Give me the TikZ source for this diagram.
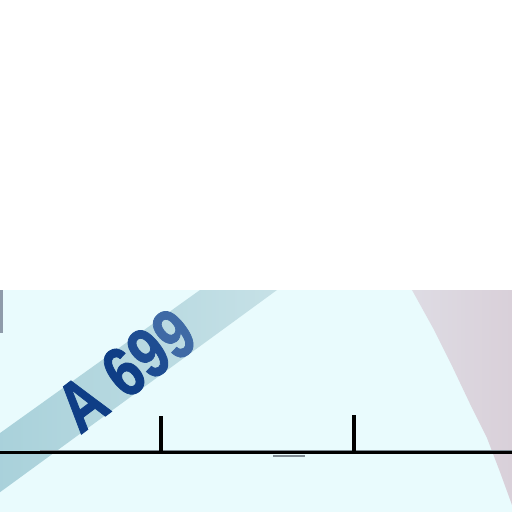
\documentclass[tikz,border=0pt]{standalone}
\usepackage{fontspec}
\setmainfont{Liberation Sans}
\usepackage{graphicx}
\definecolor{bgcyan}{HTML}{E9FBFD}
\definecolor{bandA}{HTML}{A3CED8}
\definecolor{bandB}{HTML}{CAE3E8}
\definecolor{rockA}{HTML}{DEDCE4}
\definecolor{rockB}{HTML}{D9D0D9}
\definecolor{txtA}{HTML}{0F3E86}
\definecolor{txtB}{HTML}{1E4D92}
\definecolor{txtC}{HTML}{3F6AA5}
\definecolor{markgray}{HTML}{8E9BAA}
\definecolor{shadowgray}{HTML}{7E8A92}
\tikzset{
  roadline/.style={line width=3pt, black},
  tickline/.style={line width=3.3pt, black},
  signtext/.style={font=\bfseries\fontsize{71}{71}\selectfont\addfontfeature{FakeBold=1.2}, inner sep=0pt, rotate=37}
}
\begin{document}
\begin{tikzpicture}[x=1pt,y=-1pt]
\useasboundingbox (0,0) rectangle (512,512);
\fill[white] (0,0) rectangle (512,290);
\fill[bgcyan] (0,290) rectangle (512,512);
\begin{scope}
\clip (0,290) rectangle (512,512);
% diagonal band
\shade[left color=bandA, right color=bandB]
  (-60,476) -- (200,290) -- (240,261) -- (317,261) -- (277,290) -- (-60,536) -- cycle;
% right-hand grey-pink area
\shade[left color=rockA, right color=rockB]
  (409,285) -- (412,290) -- (433,328) -- (453,368) -- (472,408) -- (487,438) -- (500,472) -- (512,505) -- (512,285) -- cycle;
\end{scope}
% left edge mark
\fill[markgray] (0,290) rectangle (3,333);
% sign text
\node[signtext] (sign) at (126,370) {\scalebox{0.8}[1]{\color{txtA}A 6\color{txtB}9\color{txtC}9}};
% line with ticks
\coordinate (lineL) at (0,452.5);
\coordinate (lineR) at (512,452.5);
\coordinate (tickAbot) at (161,452.5);
\coordinate (tickAtop) at (161,416);
\coordinate (tickBbot) at (354,452.5);
\coordinate (tickBtop) at (354,415);
\draw[shadowgray, line width=1pt] (40,450.3) -- (512,450.3);
\draw[shadowgray, line width=2pt] (273,455.5) -- (305,455.5);
\draw[roadline] (lineL) -- (lineR);
\draw[tickline] (tickAbot) -- (tickAtop);
\draw[tickline] (tickBbot) -- (tickBtop);
\end{tikzpicture}
\end{document}
